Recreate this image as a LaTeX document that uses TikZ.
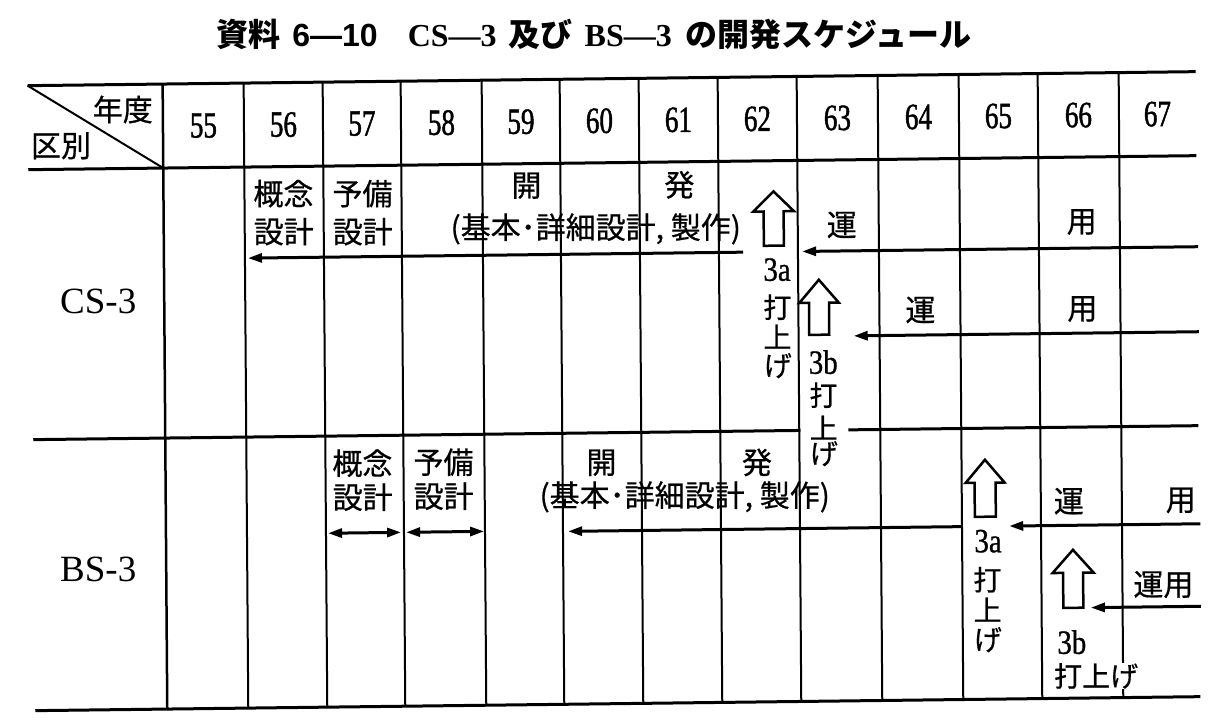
\documentclass[tikz,border=0pt]{standalone}
\usepackage{fontspec}
\usetikzlibrary{arrows.meta}
\newfontfamily\jp[FakeBold=0.6]{Noto Sans CJK JP}
\newfontfamily\jpt{Noto Sans CJK JP}
\newfontfamily\numf[FakeStretch=0.73,FakeBold=1.2]{Liberation Serif}
\newfontfamily\labf[FakeStretch=0.85,FakeBold=0.8]{Liberation Serif}
\newfontfamily\serf{Liberation Serif}
\newfontfamily\sanf{Liberation Sans}
\newcommand\blockup[7]{%
  \coordinate (#1) at (#2,#3);
  \draw[blockarr] (#1) -- ++(#4,#6) -- ++({-#4+#5},0) -- ++(0,{#7-#6})
    -- ++({-2*#5},0) -- ++(0,{-#7+#6}) -- ++({-#4+#5},0) -- cycle;}
\tikzset{
  hline/.style={line width=3pt},
  vline/.style={line width=2pt},
  yr/.style={font=\numf\fontsize{37}{37}\selectfont, inner sep=0pt},
  jt/.style={font=\jp\fontsize{30}{30}\selectfont, inner sep=0pt},
  lb/.style={font=\jp\fontsize{28}{28}\selectfont, inner sep=0pt},
  lbn/.style={font=\labf\fontsize{34}{34}\selectfont, inner sep=0pt},
  rowlab/.style={font=\serf\fontsize{37}{37}\selectfont, inner sep=0pt},
  arr/.style={line width=3pt, -{Triangle[length=14pt,width=9pt]}},
  darr/.style={line width=3pt, {Triangle[length=14pt,width=9pt]}-{Triangle[length=14pt,width=9pt]}},
  blockarr/.style={line width=2.5pt, line join=miter, fill=white},
  titlef/.style={inner sep=0pt, font=\jpt\bfseries\fontsize{32}{32}\selectfont},
}
\begin{document}
\begin{tikzpicture}[x=1pt,y=-1pt]
\useasboundingbox (0,0) rectangle (1223,727);
\fill[white] (0,0) rectangle (1223,727);
\node[titlef] (title) at (594,34) {資料\hspace{12pt}{\sanf\bfseries 6—10}\hspace{30pt}{\serf\bfseries CS—3}\hspace{12pt}及び\hspace{12pt}{\serf\bfseries BS—3}\hspace{14pt}の開発スケジュール};
\begin{scope}[cm={1,0.012,-0.0074,1,(0,0)}]
  % grid
  \draw[hline] (27,86) -- (1195,86);
  \draw[hline] (27,170) -- (1195,170);
  \draw[hline] (30,440) -- (797,440);
  \draw[hline] (845,440) -- (1195,440);
  \draw[hline] (30,711) -- (1195,711);
  \draw[vline] (27,86) -- (162,170);
  \draw[line width=2.5pt] (162,86) -- (162,711);
  \foreach \u in {243,322,400,481,559,638,717,796,877,958,1037,1118}
    \draw[vline] (\u,86) -- (\u,711);
  % header
  \node[jt] (nendo) at (122,111) {年度};
  \node[jt] (kubetsu) at (60,146.5) {区別};
  \node[yr] (y55) at (202.5,128) {55};
  \node[yr] (y56) at (282.5,128) {56};
  \node[yr] (y57) at (361,128) {57};
  \node[yr] (y58) at (440.5,128) {58};
  \node[yr] (y59) at (520,128) {59};
  \node[yr] (y60) at (598.5,128) {60};
  \node[yr] (y61) at (677.5,128) {61};
  \node[yr] (y62) at (756.5,128) {62};
  \node[yr] (y63) at (836.5,128) {63};
  \node[yr] (y64) at (917.5,128) {64};
  \node[yr] (y65) at (997.5,128) {65};
  \node[yr] (y66) at (1077.5,128) {66};
  \node[yr] (y67) at (1156.5,128) {67};
  % row labels
  \node[rowlab] (cs) at (96,303) {CS-3};
  \node[rowlab] (bs) at (94,571) {BS-3};
  % ---- CS-3
  \node[jt] (cs-gainen) at (282,197) {概念};
  \node[jt] (cs-gsekkei) at (282,235) {設計};
  \node[jt] (cs-yobi) at (361,198) {予備};
  \node[jt] (cs-ysekkei) at (361,236) {設計};
  \node[jt] (cs-kai) at (525,192) {開};
  \node[jt] (cs-hatsu) at (678,193) {発};
  \node[jt] (cs-detail) at (594,236) {(基本･詳細設計, 製作)};
  \coordinate (cs-dev-s) at (741,261);
  \coordinate (cs-dev-e) at (246,261);
  \draw[arr] (cs-dev-s) -- (cs-dev-e);
  \blockup{cs-a3a}{771.8}{200.6}{20.3}{10}{20}{54.3}
  \node[lbn] (cs-3a) at (775,279) {3a};
  \node[lb] (cs-3a-1) at (775,316.5) {打};
  \node[lb] (cs-3a-2) at (775,346) {上};
  \node[lb] (cs-3a-3) at (775,375) {げ};
  \node[jt] (cs-un1) at (840,235) {運};
  \node[jt] (cs-yo1) at (1080,235) {用};
  \coordinate (cs-op1-s) at (1196,261);
  \coordinate (cs-op1-e) at (800,261);
  \draw[arr] (cs-op1-s) -- (cs-op1-e);
  \blockup{cs-a3b}{816.5}{289.5}{19.7}{10}{23}{55}
  \node[lbn] (cs-3b) at (820.5,372) {3b};
  \node[lb] (cs-3b-1) at (820.5,405) {打};
  \node[lb] (cs-3b-2) at (820.5,437.5) {上};
  \node[lb] (cs-3b-3) at (820.5,463.5) {げ};
  \node[jt] (cs-un2) at (918,321) {運};
  \node[jt] (cs-yo2) at (1080,322) {用};
  \coordinate (cs-op2-s) at (1196,346);
  \coordinate (cs-op2-e) at (851,346);
  \draw[arr] (cs-op2-s) -- (cs-op2-e);
  % ---- BS-3
  \node[jt] (bs-gainen) at (359,467.5) {概念};
  \node[jt] (bs-gsekkei) at (359,501.5) {設計};
  \node[jt] (bs-yobi) at (440,467.5) {予備};
  \node[jt] (bs-ysekkei) at (440,501.5) {設計};
  \coordinate (bs-g-a) at (324,537);
  \coordinate (bs-g-b) at (397,537);
  \coordinate (bs-y-a) at (402,537);
  \coordinate (bs-y-b) at (480,537);
  \draw[darr] (bs-g-a) -- (bs-g-b);
  \draw[darr] (bs-y-a) -- (bs-y-b);
  \node[jt] (bs-kai) at (598,470) {開};
  \node[jt] (bs-hatsu) at (753.5,471.5) {発};
  \node[jt] (bs-detail) at (681,505) {(基本･詳細設計, 製作)};
  \coordinate (bs-dev-s) at (958,538);
  \coordinate (bs-dev-e) at (564,538);
  \draw[arr] (bs-dev-s) -- (bs-dev-e);
  \blockup{bs-a3a}{981.2}{471.4}{19.5}{10.5}{23}{57}
  \node[lbn] (bs-3a) at (984,553) {3a};
  \node[lb] (bs-3a-1) at (983,591.5) {打};
  \node[lb] (bs-3a-2) at (983,621.5) {上};
  \node[lb] (bs-3a-3) at (983,651.5) {げ};
  \node[jt] (bs-un1) at (1065,514) {運};
  \node[jt] (bs-yo1) at (1177,514.5) {用};
  \coordinate (bs-op1-s) at (1196,538);
  \coordinate (bs-op1-e) at (1005,538);
  \draw[arr] (bs-op1-s) -- (bs-op1-e);
  \blockup{bs-a3b}{1068.5}{562.5}{20.5}{10}{23}{58}
  \node[jt] (bs-unyo2) at (1159,598.5) {運用};
  \coordinate (bs-op2-s) at (1196,620.5);
  \coordinate (bs-op2-e) at (1086,620.5);
  \draw[arr] (bs-op2-s) -- (bs-op2-e);
  \node[lbn] (bs-3b) at (1067,655) {3b};
  \node[lb, fill=white, inner sep=0pt] (bs-3b-l) at (1091,689) {打上げ};
\end{scope}
\end{tikzpicture}
\end{document}
